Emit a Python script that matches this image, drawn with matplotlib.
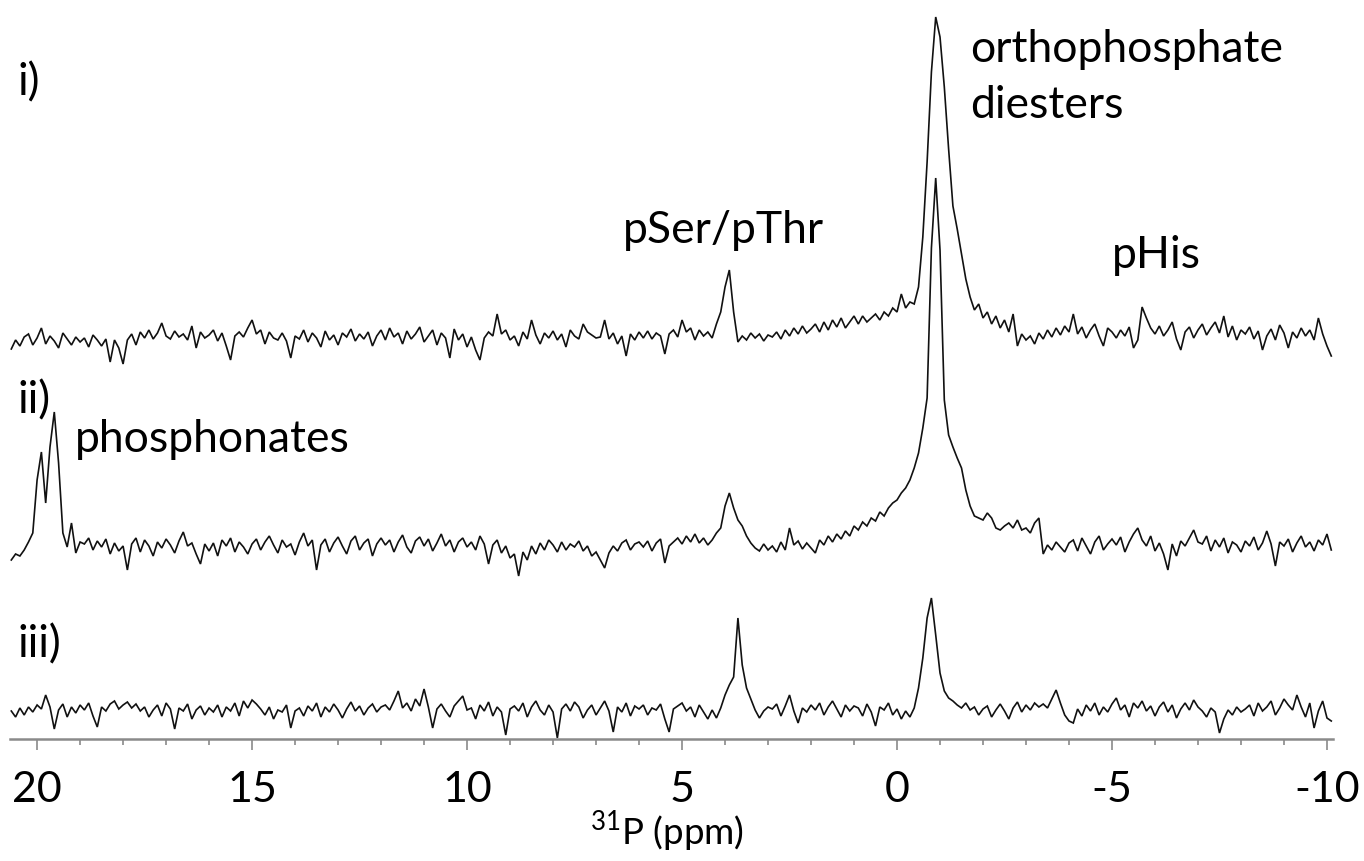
import numpy as np
import matplotlib
matplotlib.use('Agg')
import matplotlib.pyplot as plt
from matplotlib.ticker import FixedLocator, MultipleLocator

plt.rcParams['font.family'] = ['Lato', 'DejaVu Sans']
plt.rcParams['mathtext.fontset'] = 'custom'
plt.rcParams['mathtext.rm'] = 'Lato'
plt.rcParams['axes.unicode_minus'] = False

# chemical shift grid: first point (ppm) and step (ppm, decreasing)
PPM_START = 20.6
PPM_STEP = 0.1

# intensities (arbitrary units, relative to each trace's own baseline), 20.6 -> -10.1 ppm
trace_i = [
    -7, 2, -4, 5, 8, -3, 4,                      # 20.6..20.0
    14, -2, 6, 1, -6, 9, 3, -3, 5, 0,            # 19.9..19.0
    4, -5, 7, 2, -4, 3, -20, 2, -6, -22,         # 18.9..18.0
    2, 8, -3, 10, 4, 12, 3, 9, 19, 6,            # 17.9..17.0
    3, 11, 5, 8, 2, 16, -6, 10, 4, 7,            # 16.9..16.0
    12, 1, 9, -4, -18, 6, 10, 5, 14, 22,         # 15.9..15.0
    8, 12, -2, 10, 4, 2, 9, 1, -16, 6,           # 14.9..14.0
    3, 12, 0, 9, 4, -5, 11, 2, 7, -3,            # 13.9..13.0
    9, 5, 13, 1, 8, 3, 10, -4, 6, 12,            # 12.9..12.0
    2, 14, 5, 9, -2, 11, 3, 8, 15, 0,            # 11.9..11.0
    6, 12, -3, 9, 4, -16, 13, 2, 8, -5,          # 10.9..10.0
    5, -8, -18, 4, 10, 6, 28, 8, 12, 2,          # 9.9..9.0
    6, -4, 10, 3, 22, 7, -2, 9, 4, 11,           # 8.9..8.0
    2, 8, -5, 12, 6, 3, 18, 10, 7, 4,            # 7.9..7.0
    5, 22, 3, 9, -2, 6, -14, 8, 2, 10,           # 6.9..6.0
    4, 11, 3, 9, 6, -12, 8, 12, 5, 22,           # 5.9..5.0
    10, 14, 2, 12, 6, 10, 4, 18, 30, 55,         # 4.9..4.0
    72, 30, 0, 6, 2, 9, 4, 8, 1, 7,              # 3.9..3.0
    5, 10, 3, 12, 6, 14, 8, 16, 9, 13,           # 2.9..2.0
    18, 10, 20, 12, 22, 15, 24, 14, 20, 26,      # 1.9..1.0
    18, 26, 20, 24, 28, 22, 30, 26, 34, 30,      # 0.9..0.0
    48, 34, 40, 38, 55, 105, 180, 270, 325, 305,  # -0.1..-1.0
    255, 193, 136, 113, 88, 63, 45, 32, 38, 24,  # -1.1..-2.0
    30, 18, 26, 14, 22, 10, 28, -4, 8, 2,        # -2.1..-3.0
    6, -2, 9, 3, 12, 5, 14, 7, 16, 10,           # -3.1..-4.0
    28, 8, 15, 4, 12, 18, 6, -4, 14, 10,         # -4.1..-5.0
    4, 12, 6, 15, -6, 2, 35, 24, 14, 8,          # -5.1..-6.0
    16, 6, 12, 20, 3, -8, 10, 15, 4, 12,         # -6.1..-7.0
    18, 7, 14, 20, 9, 26, 5, 16, 2, 12,          # -7.1..-8.0
    8, 15, 3, 11, -8, 6, 13, 2, 17, 9,           # -8.1..-9.0
    -6, 10, 4, 14, 6, 12, 2, 24, 8, -4, -14,     # -9.1..-10.1
]

trace_ii = [
    -12, -6, -8, -2, 6, 15, 68,                   # 20.6..20.0
    96, 45, 101, 136, 85, 15, 1, 25, -5, 6,       # 19.9..19.0
    4, 10, -2, 7, 1, 9, -6, 5, -3, 2,             # 18.9..18.0
    -22, 4, 10, -4, 8, 2, -8, 6, 0, 9,            # 17.9..17.0
    3, -5, 7, 16, 2, 5, -6, -16, 4, -3,           # 16.9..16.0
    5, -8, 8, 2, 10, -4, 6, 1, -6, 4,             # 15.9..15.0
    9, -2, 6, 12, 3, -5, 8, 1, 4, -7,             # 14.9..14.0
    6, 15, 2, 8, -22, 3, 9, -4, 5, 11,            # 13.9..13.0
    2, -6, 7, 12, -2, 5, 9, -8, 4, 10,            # 12.9..12.0
    3, 8, -4, 6, 13, 1, -5, 7, 11, 2,             # 11.9..11.0
    9, -3, 5, 14, 2, 8, -4, 6, 10, 1,             # 10.9..10.0
    6, -2, 12, 4, -16, 3, 8, -5, 2, -10,          # 9.9..9.0
    -6, -28, -4, -12, 2, -6, 5, -2, 8, 3,         # 8.9..8.0
    -4, 6, -2, 4, 1, 7, -3, 2, -8, -4,            # 7.9..7.0
    -12, -20, -5, 2, -3, 5, 8, -2, 4, 6,          # 6.9..6.0
    1, 7, -3, 5, 9, -15, 2, 6, 10, 4,             # 5.9..5.0
    12, 6, 14, 5, 10, 3, 8, 15, 20, 42,           # 4.9..4.0
    55, 40, 28, 22, 12, 5, 0, -3, 4, -2,          # 3.9..3.0
    2, -4, 6, -2, 20, 3, 7, -1, 5, 0,             # 2.9..2.0
    -5, 8, 3, 12, 6, 14, 9, 17, 12, 22,           # 1.9..1.0
    18, 26, 22, 30, 27, 36, 32, 40, 45, 48,       # 0.9..0.0
    55, 60, 68, 80, 95, 120, 150, 300, 370, 298,  # -0.1..-1.0
    148, 113, 101, 90, 80, 58, 42, 32, 30, 28,    # -1.1..-2.0
    35, 30, 20, 18, 22, 25, 20, 28, 18, 20,       # -2.1..-3.0
    15, 25, 30, -6, 3, -2, 6, 1, -4, 5,           # -3.1..-4.0
    8, -3, 10, 2, -6, 6, 12, -2, 4, 9,            # -4.1..-5.0
    3, 11, -4, 6, 14, 20, 8, 2, 12, -3,           # -5.1..-6.0
    5, -6, -22, 4, -8, 7, 2, 10, 18, 6,           # -6.1..-7.0
    4, 12, -3, 8, 1, 10, -5, 6, 3, -4,            # -7.1..-8.0
    7, 2, 11, -2, 5, 17, 4, -18, 6, 2,            # -8.1..-9.0
    9, -4, 5, 12, 1, 6, -3, 8, 3, 14, -2,         # -9.1..-10.1
]

trace_iii = [
    2, -4, 5, -2, 6, 1, 8,                        # 20.6..20.0
    4, 18, 6, -16, 3, 9, -4, 6, 0, 8,             # 19.9..19.0
    3, 10, -3, -14, 6, 2, 9, 12, 4, 8,            # 18.9..18.0
    11, 5, 9, 2, 6, -4, 3, 8, -3, 10,             # 17.9..17.0
    4, -16, 5, 2, 9, -6, 3, 7, -2, 5,             # 16.9..16.0
    1, 8, -4, 6, 2, 10, -3, 12, 5, 13,            # 15.9..15.0
    9, 4, -2, 6, -6, 3, 1, 8, -15, 2,             # 14.9..14.0
    5, -3, 7, 2, 10, -4, 6, 1, 9, 3,              # 13.9..13.0
    -5, 4, 11, 2, 7, -2, 5, 9, 1, 6,              # 12.9..12.0
    8, 3, 12, 22, 5, 10, 2, 14, 7, 24,            # 11.9..11.0
    6, -15, 4, 9, 2, -4, 7, 12, 17, 3,            # 10.9..10.0
    5, -6, 8, 2, 11, -3, 6, 1, -22, 4,            # 9.9..9.0
    7, 2, 10, -4, 6, 12, 3, -2, 8, 1,             # 8.9..8.0
    -25, 4, 9, 2, 11, 6, -5, 3, 8, -2,            # 7.9..7.0
    5, 12, 2, -19, 6, 1, 10, -3, 7, 4,            # 6.9..6.0
    8, -2, 5, 3, 9, -6, -19, 4, 7, 10,            # 5.9..5.0
    2, 6, -4, 8, 1, -6, 3, -5, 5, 18,             # 4.9..4.0
    28, 36, 95, 48, 25, 14, 3, -5, 2, 6,          # 3.9..3.0
    4, 9, -3, 7, 18, 2, -10, 5, 1, 8,             # 2.9..2.0
    3, 10, -2, 6, 12, 4, -4, 8, 2, 7,             # 1.9..1.0
    5, -3, 9, 1, -13, 6, 3, 10, -2, 4,            # 0.9..0.0
    -6, 2, -4, 5, 25, 55, 95, 115, 78, 40,        # -0.1..-1.0
    22, 15, 12, 8, 5, 10, 3, 6, -2, 4,            # -1.1..-2.0
    7, -4, 3, 9, 2, -6, 5, 11, 1, 8,              # -2.1..-3.0
    3, 10, 6, 9, 5, 14, 23, 10, -2, -8,           # -3.1..-4.0
    -10, 4, -3, 8, 2, 10, -2, 6, 1, 9,            # -4.1..-5.0
    15, 3, 8, -4, 10, 5, 12, 2, 7, -3,            # -5.1..-6.0
    6, 11, 1, 8, -5, 4, 10, 3, 13, 6,             # -6.1..-7.0
    2, -4, 5, 1, -20, -6, 3, -2, 6, 1,            # -7.1..-8.0
    4, 8, -3, 10, 2, 6, 12, -2, 5, 14,            # -8.1..-9.0
    8, 3, 18, 6, -4, 10, -15, 2, 12, -5, -8,      # -9.1..-10.1
]

trace_names = ['i)', 'ii)', 'iii)']
major_ticks = [20, 15, 10, 5, 0, -5, -10]
tick_labels = ['20', '15', '10', '5', '0', '-5', '-10']
minor_step = 1
x_label = r'$^{31}$P (ppm)'
peak_labels = ['phosphonates', 'pSer/pThr', 'orthophosphate', 'diesters', 'pHis']

# ---------------------------------------------------------------- layout
W, H = 1364, 861
fig = plt.figure(figsize=(W / 100, H / 100), dpi=100)
ax_left, ax_right, ax_top, ax_bottom = 10, 1333, 0, 739
ax = fig.add_axes([ax_left / W, 1 - ax_bottom / H,
                   (ax_right - ax_left) / W, (ax_bottom - ax_top) / H])
ax.set_xlim(20.63, -10.14)
ax.set_ylim(0, ax_bottom - ax_top)

offsets = [397, 191, 26]      # vertical position of each trace baseline
for vals, off in zip([trace_i, trace_ii, trace_iii], offsets):
    y = np.asarray(vals, dtype=float)
    x = PPM_START - PPM_STEP * np.arange(len(y))
    ax.plot(x, y + off, color='#111111', lw=1.2, clip_on=False,
            solid_joinstyle='miter')

for s in ['left', 'right', 'top']:
    ax.spines[s].set_visible(False)
ax.spines['bottom'].set_color('#8a8a8a')
ax.spines['bottom'].set_linewidth(1.8)
ax.set_yticks([])
ax.xaxis.set_major_locator(FixedLocator(major_ticks))
ax.set_xticklabels(tick_labels)
ax.xaxis.set_minor_locator(MultipleLocator(minor_step))
ax.tick_params(axis='x', which='major', length=8, width=1.2, color='#8a8a8a',
               labelsize=31, pad=15, labelcolor='black')
ax.tick_params(axis='x', which='minor', length=4.5, width=1.2, color='#8a8a8a')

fig.text(667 / W, 1 - 845 / H, x_label, ha='center', va='baseline', fontsize=26.5)

# trace names
name_pos = [(17, 95), (17, 413), (17, 657)]
for name, (px, py) in zip(trace_names, name_pos):
    fig.text(px / W, 1 - py / H, name, ha='left', va='baseline', fontsize=32)

# peak annotations (left edge, baseline in pixels)
label_pos = [(75, 452), (623, 243), (970, 62), (970, 118), (1112, 268)]
for lab, (px, py) in zip(peak_labels, label_pos):
    fig.text(px / W, 1 - py / H, lab, ha='left', va='baseline', fontsize=32)

fig.savefig('out.png', dpi=100)
